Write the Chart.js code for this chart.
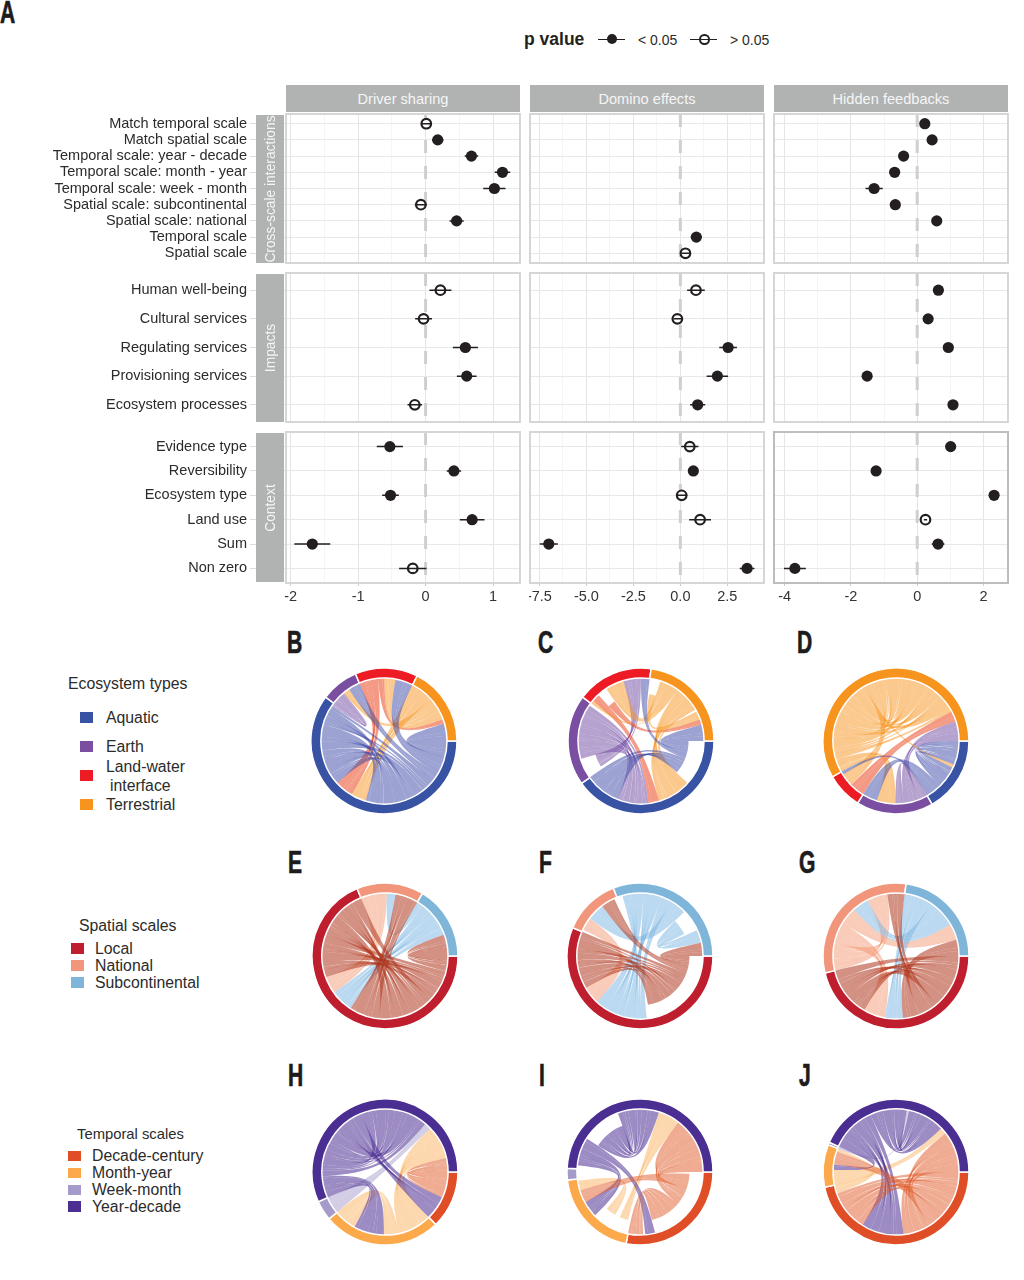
<!DOCTYPE html>
<html>
<head>
<meta charset="utf-8">
<title>Regime shift interactions</title>
<script src="https://cdn.jsdelivr.net/npm/chart.js@4"></script>
<style>
  html, body { margin: 0; padding: 0; background: #fff; }
  #page { position: relative; width: 1024px; height: 1280px; overflow: hidden; font-family: "Liberation Sans", Arial, sans-serif; color: #2b2b2b; }
  #page canvas { position: absolute; }
  .txt { position: absolute; white-space: nowrap; line-height: 1; transform: translateY(-50%); }
  .letter { position: absolute; font-family: "Liberation Sans", sans-serif; font-weight: bold; font-size: 31px; line-height: 1; color: #1d1b1c; -webkit-text-stroke: 0.7px #1d1b1c; transform: translateY(-50%) scaleX(0.68); transform-origin: left center; }
  .head { position: absolute; background: #b1b3b2; color: #f6f6f6; font-size: 14.6px; display: flex; align-items: center; justify-content: center; z-index: 3; }
  .strip { position: absolute; background: #b1b3b2; z-index: 3; }
  .strip span { position: absolute; left: 50%; top: 50%; transform: translate(-50%, -50%) rotate(-90deg); white-space: nowrap; color: #f6f6f6; font-size: 13.8px; }
  .swatch { position: absolute; }
  .keyline { position: absolute; height: 1.5px; background: #231f20; }
  .keydot { position: absolute; border-radius: 50%; box-sizing: border-box; }
</style>
</head>
<body>
<div id="page"></div>
<script>
// ---- panel A: estimates ----
const panelNames = ['Driver sharing', 'Domino effects', 'Hidden feedbacks'];
const groupNames = ['Cross-scale interactions', 'Impacts', 'Context'];

const scaleLabels = ['Match temporal scale', 'Match spatial scale', 'Temporal scale: year - decade', 'Temporal scale: month - year', 'Temporal scale: week - month', 'Spatial scale: subcontinental', 'Spatial scale: national', 'Temporal scale', 'Spatial scale'];
const impactLabels = ['Human well-being', 'Cultural services', 'Regulating services', 'Provisioning services', 'Ecosystem processes'];
const contextLabels = ['Evidence type', 'Reversibility', 'Ecosystem type', 'Land use', 'Sum', 'Non zero'];

const driverTickValues = [-2, -1, 0, 1];
const driverTickLabels = ['-2', '-1', '0', '1'];
const dominoTickValues = [-7.5, -5, -2.5, 0, 2.5];
const dominoTickLabels = ['-7.5', '-5.0', '-2.5', '0.0', '2.5'];
const hiddenTickValues = [-4, -2, 0, 2];
const hiddenTickLabels = ['-4', '-2', '0', '2'];

const driverScale = [0.01, 0.18, 0.68, 1.14, 1.02, -0.07, 0.46, null, null];
const driverScaleErr = [0.07, 0.085, 0.1, 0.115, 0.165, 0.09, 0.105, null, null];
const driverScaleOpen = [1, 0, 0, 0, 0, 1, 0, 0, 0];
const driverImpact = [0.22, -0.03, 0.59, 0.61, -0.16];
const driverImpactErr = [0.163, 0.125, 0.186, 0.146, 0.108];
const driverImpactOpen = [1, 1, 0, 0, 1];
const driverContext = [-0.53, 0.42, -0.52, 0.69, -1.68, -0.19];
const driverContextErr = [0.194, 0.106, 0.123, 0.183, 0.266, 0.203];
const driverContextOpen = [0, 0, 0, 0, 0, 1];

const dominoScale = [null, null, null, null, null, null, null, 0.85, 0.27];
const dominoScaleErr = [null, null, null, null, null, null, null, 0.3, 0.2];
const dominoScaleOpen = [0, 0, 0, 0, 0, 0, 0, 0, 1];
const dominoImpact = [0.83, -0.16, 2.54, 1.97, 0.92];
const dominoImpactErr = [0.47, 0.2, 0.47, 0.57, 0.4];
const dominoImpactOpen = [1, 1, 0, 0, 0];
const dominoContext = [0.5, 0.69, 0.07, 1.05, -7.0, 3.55];
const dominoContextErr = [0.46, 0.1, 0.3, 0.58, 0.48, 0.39];
const dominoContextOpen = [1, 0, 1, 1, 0, 0];

const hiddenScale = [0.23, 0.45, -0.41, -0.68, -1.3, -0.66, 0.59, null, null];
const hiddenScaleErr = [0.05, 0.05, 0.05, 0.05, 0.26, 0.05, 0.05, null, null];
const hiddenScaleOpen = [0, 0, 0, 0, 0, 0, 0, 0, 0];
const hiddenImpact = [0.64, 0.33, 0.94, -1.51, 1.08];
const hiddenImpactErr = [0.05, 0.05, 0.05, 0.05, 0.05];
const hiddenImpactOpen = [0, 0, 0, 0, 0];
const hiddenContext = [1.01, -1.24, 2.32, 0.25, 0.63, -3.69];
const hiddenContextErr = [0.05, 0.05, 0.05, 0.05, 0.19, 0.33];
const hiddenContextOpen = [0, 0, 0, 1, 0, 0];

// ---- panels B-J: sector sizes, and what fills each sector going clockwise ----
const ecosystemTypes = ['Aquatic', 'Earth', 'Land-water interface', 'Terrestrial'];
const spatialScales = ['Local', 'National', 'Subcontinental'];
const temporalScales = ['Decade-century', 'Month-year', 'Week-month', 'Year-decade'];

// a slot is [link, size, strands]; first digit of a link is its source sector, '' is empty
const bRing = [217, 30, 50, 63];
const bSlots = [
  [['03', 15, 3], ['02', 16, 3], ['01', 8, 2], ['00', 68, 11], ['30', 14, 2], ['20', 17, 2], ['00', 76, 5], ['10', 3, 1]],
  [['10', 13, 5], ['31', 6, 1], ['01', 11, 3]],
  [['20', 17, 4], ['23', 6, 1], ['32', 10, 2], ['02', 16, 3]],
  [['30', 20, 5], ['31', 8, 3], ['32', 12, 4], ['23', 4, 1], ['03', 15, 3]]
];
const cRing = [144.5, 72.5, 61, 82];
const cSlots = [
  [['03', 14, 3], ['02', 8, 2], ['00', 19, 5], ['', 1], ['30', 31, 2], ['20', 10, 1], ['10', 29, 3], ['00', 32.5, 2]],
  [['', 3], ['12', 16, 6], ['10', 51, 12], ['', 2.5]],
  [['32b', 3, 1], ['20', 7, 2], ['23', 9, 1], ['32', 17, 2], ['12', 16, 2], ['02', 8, 2]],
  [['', 2], ['33', 8, 3], ['32', 16, 5], ['32b', 2, 1], ['30', 24, 6], ['', 2], ['33', 8, 1], ['23', 5, 1], ['03', 15, 2]]
];
const dRing = [60.4, 61.3, 28.9, 209.4];
const dSlots = [
  [['00', 22, 6], ['30', 3, 1], ['00', 20, 5], ['01', 10, 3], ['02', 5, 1]],
  [['11', 8, 3], ['13', 14, 4], ['11', 8, 3], ['31', 17, 2], ['01', 14, 3]],
  [['23', 14, 1], ['32', 12, 2], ['02', 3, 1]],
  [['31', 12, 4], ['33', 74, 16], ['30', 3, 1], ['32', 12, 2], ['33', 80, 3], ['23', 10, 1], ['13', 18, 2]]
];
const eRing = [247.5, 53.5, 59];
const eSlots = [
  [['02', 14, 3], ['00', 29, 6], ['00b', 52, 9], ['01', 28, 4], ['20', 21, 2], ['10', 16, 2], ['00', 40, 4], ['00b', 47, 4]],
  [['10', 24, 5], ['21', 8, 1], ['01', 21, 2]],
  [['21', 6, 1], ['20', 33, 7], ['02', 20, 3]]
];
const fRing = [202.8, 45.8, 111.4];
const fSlots = [
  [['02', 10, 2], ['01', 10, 2], ['00', 60, 11], ['', 3], ['20', 49, 2], ['10', 16, 1], ['00', 53, 3]],
  [['', 2], ['10', 12, 1], ['21', 16, 1], ['01', 13, 1], ['', 2.8]],
  [['', 5], ['20', 45, 9], ['21', 15, 3], ['22', 18, 4], ['', 2], ['22', 12, 1], ['02', 12, 2]]
];
const gRing = [166.6, 111.4, 82];
const gSlots = [
  [['00', 50, 9], ['01', 18, 3], ['02', 15, 3], ['20', 17, 2], ['10', 20, 2], ['00', 46, 5]],
  [['11', 25, 6], ['10', 20, 3], ['12', 16, 3], ['21', 15, 2], ['11', 19, 3], ['01', 16, 2]],
  [['20', 26, 5], ['21', 26, 5], ['12', 15, 1], ['02', 15, 2]]
];
const hRing = [46, 94, 16, 204];
const hSlots = [
  [['03', 24, 5], ['30', 22, 3]],
  [['13', 31, 6], ['11', 14, 3], ['31', 28, 4], ['11', 21, 3]],
  [['23', 16, 2]],
  [['31', 20, 4], ['33', 50, 10], ['30', 22, 4], ['33', 62, 6], ['23', 6, 1], ['13', 31, 2], ['03', 13, 2]]
];
const iRing = [101, 72.7, 9.3, 177];
const iSlots = [
  [['', 2], ['01', 18, 3], ['03', 20, 3], ['00', 36, 9], ['30', 9, 2], ['', 2], ['00', 14, 1]],
  [['', 3], ['13', 10, 2], ['10', 6, 1], ['11', 12, 4], ['', 4], ['31', 15, 1], ['01', 12, 1], ['11', 9, 2], ['', 1.7]],
  [['23', 9, 1]],
  [['', 3], ['31', 16, 4], ['30', 10, 2], ['33', 37, 9], ['33', 38, 2], ['13', 20, 2], ['03', 52, 2]]
];
const jRing = [168, 34, 2, 156];
const jSlots = [
  [['00', 44, 8], ['01', 14, 3], ['03', 25, 5], ['30', 39, 3], ['00', 38, 6], ['10', 8, 1]],
  [['13', 14, 3], ['31', 5, 1], ['01', 12, 2], ['10', 3, 1]],
  [['23', 2, 1]],
  [['31', 12, 2], ['30', 30, 6], ['33', 34, 7], ['23', 2, 1], ['33', 34, 5], ['13', 6, 1], ['03', 38, 6]]
];

// ---- styles ----
const ecosystemColors = ['#3953a4', '#7a4ea0', '#ed1c24', '#f7941d'];
const ecosystemRibbons = ['rgba(58,70,165,.5)', 'rgba(110,70,160,.5)', 'rgba(235,70,30,.55)', 'rgba(247,148,29,.5)'];
const spatialColors = ['#be1e2d', '#f1967a', '#7fb5d9'];
const spatialRibbons = ['rgba(175,55,30,.55)', 'rgba(241,140,100,.45)', 'rgba(120,180,225,.5)'];
const temporalColors = ['#e04e27', '#fba94b', '#a59bcb', '#4b2e91'];
const temporalRibbons = ['rgba(224,90,40,.5)', 'rgba(251,169,75,.45)', 'rgba(165,155,203,.5)', 'rgba(75,46,145,.55)'];

const INK = '#231f20';
const page = document.getElementById('page');
Chart.defaults.font.family = '"Liberation Sans", Arial, sans-serif';
Chart.defaults.animation = false;
Chart.defaults.events = [];

function addText(text, x, y, size, extra) {
  let el = document.createElement('div');
  el.className = 'txt';
  el.textContent = text;
  el.style.cssText = 'left:' + x + 'px;top:' + y + 'px;font-size:' + size + 'px;' + (extra || '');
  page.appendChild(el);
}

function addBox(cls, x, y, w, h, css) {
  let el = document.createElement('div');
  el.className = cls;
  el.style.cssText = 'left:' + x + 'px;top:' + y + 'px;width:' + w + 'px;height:' + h + 'px;' + (css || '');
  page.appendChild(el);
  return el;
}

function addLetter(text, x, y) {
  let el = document.createElement('div');
  el.className = 'letter';
  el.textContent = text;
  el.style.left = x + 'px';
  el.style.top = y + 'px';
  page.appendChild(el);
}

function addCanvas(x, y, w, h) {
  let c = document.createElement('canvas');
  c.width = w;
  c.height = h;
  c.style.cssText = 'left:' + x + 'px;top:' + y + 'px;width:' + w + 'px;height:' + h + 'px;';
  page.appendChild(c);
  return c.getContext('2d');
}

// ---- forest panels ----
const colLefts = [286, 530, 774];
const rowTops = [114, 273, 432];
const rowHeights = [149, 149, 150];
const panelW = 234;
const xMins = [-2.07, -8, -4.32];
const xMaxs = [1.4, 4.45, 2.74];
const xSteps = [0.5, 1.25, 1];

const panelBorder = {
  id: 'panelBorder',
  afterDraw(chart, args, opts) {
    let a = chart.chartArea, ctx = chart.ctx;
    ctx.save();
    ctx.strokeStyle = opts.color;
    ctx.lineWidth = 2;
    ctx.strokeRect(a.left, a.top, a.right - a.left, a.bottom - a.top);
    ctx.restore();
  }
};

// keeps the plot area exactly where the facet grid puts it
function noScalePadding(s) {
  s.paddingLeft = s.paddingRight = s.paddingTop = s.paddingBottom = 0;
}

function addForest(col, row, labels, values, errs, open, tickValues, tickLabels) {
  let first = col === 0, bottom = row === 2;
  let left = first ? 0 : colLefts[col] - 1;
  let w = first ? colLefts[0] + panelW + 1 : panelW + 2;
  let h = rowHeights[row] + 2 + (bottom ? 28 : 0);
  let ctx = addCanvas(left, rowTops[row] - 1, w, h);
  let yMin = -0.6, yMax = labels.length - 0.4;

  let solid = [], hollow = [], bars = [];
  values.forEach(function(v, i) {
    if (v === null) return;
    (open[i] ? hollow : solid).push({x: v, y: i});
    bars.push({x: v - errs[i], y: i}, {x: v + errs[i], y: i}, {x: null, y: null});
  });

  new Chart(ctx, {
    type: 'scatter',
    data: {
      datasets: [
        {data: [{x: 0, y: yMin}, {x: 0, y: yMax}], showLine: true, pointRadius: 0, borderColor: '#cfcfcf', borderWidth: 3, borderDash: [13, 13], order: 4},
        {data: hollow, pointRadius: 4.8, pointBackgroundColor: '#fff', pointBorderColor: INK, pointBorderWidth: 2.2, order: 3},
        {data: bars, showLine: true, spanGaps: false, pointRadius: 0, borderColor: INK, borderWidth: 1.5, order: 2},
        {data: solid, pointRadius: 5.6, pointBackgroundColor: INK, pointBorderColor: INK, pointBorderWidth: 0, order: 1}
      ]
    },
    options: {
      responsive: false,
      layout: {autoPadding: false, padding: {left: first ? 0 : 1, right: 1, top: 1, bottom: bottom ? 0 : 1}},
      plugins: {
        legend: {display: false},
        tooltip: {enabled: false},
        panelBorder: {color: (col === 2 && row === 2) ? '#bdbdbd' : '#d6d6d6'}
      },
      scales: {
        x: {
          type: 'linear',
          min: xMins[col],
          max: xMaxs[col],
          border: {display: false},
          afterFit(s) { s.height = bottom ? 28 : 0; noScalePadding(s); },
          grid: {
            drawTicks: bottom,
            tickLength: 3,
            color: c => tickValues.includes(c.tick.value) ? '#e4e4e4' : '#f0f0f0',
            lineWidth: c => tickValues.includes(c.tick.value) ? 1 : 0.7,
            tickColor: c => tickValues.includes(c.tick.value) ? '#cccccc' : 'rgba(0,0,0,0)'
          },
          ticks: {
            display: bottom,
            stepSize: xSteps[col],
            includeBounds: false,
            autoSkip: false,
            maxRotation: 0,
            padding: 2,
            color: '#333',
            font: {size: 14.5},
            callback: v => {
              let i = tickValues.indexOf(v);
              return i < 0 ? '' : tickLabels[i];
            }
          }
        },
        y: {
          type: 'linear',
          reverse: true,
          min: yMin,
          max: yMax,
          border: {display: false},
          afterFit(s) { s.width = first ? colLefts[0] : 0; noScalePadding(s); },
          grid: {drawTicks: first, tickLength: 36, color: '#e8e8e8', lineWidth: 1, tickColor: '#dcdcdc'},
          ticks: {
            display: first,
            stepSize: 1,
            includeBounds: false,
            autoSkip: false,
            padding: 3,
            color: '#2b2b2b',
            font: {size: 14.5},
            callback: v => labels[v]
          }
        }
      }
    },
    plugins: [panelBorder]
  });
}

addForest(0, 0, scaleLabels, driverScale, driverScaleErr, driverScaleOpen, driverTickValues, driverTickLabels);
addForest(0, 1, impactLabels, driverImpact, driverImpactErr, driverImpactOpen, driverTickValues, driverTickLabels);
addForest(0, 2, contextLabels, driverContext, driverContextErr, driverContextOpen, driverTickValues, driverTickLabels);
addForest(1, 0, scaleLabels, dominoScale, dominoScaleErr, dominoScaleOpen, dominoTickValues, dominoTickLabels);
addForest(1, 1, impactLabels, dominoImpact, dominoImpactErr, dominoImpactOpen, dominoTickValues, dominoTickLabels);
addForest(1, 2, contextLabels, dominoContext, dominoContextErr, dominoContextOpen, dominoTickValues, dominoTickLabels);
addForest(2, 0, scaleLabels, hiddenScale, hiddenScaleErr, hiddenScaleOpen, hiddenTickValues, hiddenTickLabels);
addForest(2, 1, impactLabels, hiddenImpact, hiddenImpactErr, hiddenImpactOpen, hiddenTickValues, hiddenTickLabels);
addForest(2, 2, contextLabels, hiddenContext, hiddenContextErr, hiddenContextOpen, hiddenTickValues, hiddenTickLabels);

panelNames.forEach(function(name, i) {
  let el = addBox('head', colLefts[i], 85, panelW, 27);
  el.textContent = name;
});
groupNames.forEach(function(name, i) {
  let el = addBox('strip', 256, rowTops[i] + 1, 28, rowHeights[i] - 1);
  let s = document.createElement('span');
  s.textContent = name;
  el.appendChild(s);
});

// p value key
addText('p value', 524, 40, 17.5, 'font-weight:bold;color:#231f20;');
addBox('keyline', 598, 38.5, 27, 1.5);
addBox('keydot', 607, 34, 10, 10, 'background:' + INK + ';');
addText('< 0.05', 638, 40, 14);
addBox('keyline', 690, 38.5, 27, 1.5);
addBox('keydot', 699, 34, 10.5, 10.5, 'border:2.2px solid ' + INK + ';background:transparent;');
addText('> 0.05', 730, 40, 14);

// ---- chord panels ----
const RIBBON_R = 63.4;
const PINCH = 0.16;
const strandWeights = [5, 2, 3, 7, 2, 4, 6, 3, 8, 2, 4];

function gcd(a, b) { return b ? gcd(b, a % b) : a; }

function strandEdges(a0, a1, n) {
  let total = 0, edges = [], pos = a0;
  for (let i = 0; i < n; i++) total += strandWeights[i % strandWeights.length];
  for (let i = 0; i < n; i++) {
    let w = (a1 - a0) * strandWeights[i % strandWeights.length] / total;
    edges.push([pos, pos + w]);
    pos += w;
  }
  return edges;
}

const ribbonPlugin = {
  id: 'ribbons',
  beforeDatasetsDraw(chart, args, opts) {
    let arcs = chart.getDatasetMeta(0).data, ctx = chart.ctx;
    let cx = arcs[0].x, cy = arcs[0].y;
    let links = {};
    // walk each sector's slots inside the angles the doughnut gave it
    opts.slots.forEach(function(list, s) {
      let arc = arcs[s], sum = 0, pos = arc.startAngle;
      list.forEach(slot => sum += slot[1]);
      list.forEach(function(slot) {
        let span = (arc.endAngle - arc.startAngle) * slot[1] / sum;
        if (slot[0]) {
          (links[slot[0]] = links[slot[0]] || []).push({sector: s, a0: pos, a1: pos + span, n: slot[2]});
        }
        pos += span;
      });
    });
    // curve between two rim points, pulled through the middle of the circle
    function curve(ra, ta, rb, tb) {
      let ax = ra * Math.cos(ta), ay = ra * Math.sin(ta), bx = rb * Math.cos(tb), by = rb * Math.sin(tb);
      ctx.bezierCurveTo(cx + PINCH * ax, cy + PINCH * ay, cx + PINCH * bx, cy + PINCH * by, cx + bx, cy + by);
    }
    Object.keys(links).forEach(function(id) {
      let ends = links[id], from = +id[0];
      if (ends.length < 2) return;
      let src = ends[0], dst = ends[1];
      // wide slots never stay one flat band: about one strand per 6 degrees
      let widest = Math.max(src.a1 - src.a0, dst.a1 - dst.a0) * 180 / Math.PI;
      let n = Math.max(src.n, dst.n, Math.ceil(widest / 6));
      let a = strandEdges(src.a0, src.a1, n), b = strandEdges(dst.a0, dst.a1, n);
      let step = n >= 4 ? 3 : 1;
      while (gcd(step, n) !== 1) step++;
      let ra = src.sector === from ? RIBBON_R * opts.height : RIBBON_R;
      ctx.fillStyle = opts.colors[from];
      for (let i = 0; i < n; i++) {
        let e = a[i], f = b[n - 1 - (i * step) % n];
        ctx.beginPath();
        ctx.arc(cx, cy, ra, e[0], e[1]);
        curve(ra, e[1], RIBBON_R, f[0]);
        ctx.arc(cx, cy, RIBBON_R, f[0], f[1]);
        curve(RIBBON_R, f[1], ra, e[0]);
        ctx.closePath();
        ctx.fill();
      }
    });
  }
};

function addChord(cx, cy, names, ring, slots, colors, ribbons, height) {
  let ctx = addCanvas(cx - 76, cy - 76, 152, 152);
  new Chart(ctx, {
    type: 'doughnut',
    data: {
      labels: names,
      datasets: [{data: ring, backgroundColor: colors, borderColor: '#fff', borderWidth: 1.5}]
    },
    options: {
      responsive: false,
      rotation: 90,
      radius: 73,
      cutout: 65,
      plugins: {
        legend: {display: false},
        tooltip: {enabled: false},
        ribbons: {slots: slots, colors: ribbons, height: height}
      }
    },
    plugins: [ribbonPlugin]
  });
}

addChord(384, 741, ecosystemTypes, bRing, bSlots, ecosystemColors, ecosystemRibbons, 1);
addChord(640.5, 741, ecosystemTypes, cRing, cSlots, ecosystemColors, ecosystemRibbons, 0.75);
addChord(896, 741, ecosystemTypes, dRing, dSlots, ecosystemColors, ecosystemRibbons, 1);
addChord(384.5, 956, spatialScales, eRing, eSlots, spatialColors, spatialRibbons, 1);
addChord(640, 956, spatialScales, fRing, fSlots, spatialColors, spatialRibbons, 0.78);
addChord(896, 956, spatialScales, gRing, gSlots, spatialColors, spatialRibbons, 1);
addChord(384.5, 1172, temporalScales, hRing, hSlots, temporalColors, temporalRibbons, 1);
addChord(640, 1172, temporalScales, iRing, iSlots, temporalColors, temporalRibbons, 0.78);
addChord(896, 1172, temporalScales, jRing, jSlots, temporalColors, temporalRibbons, 1);

// ---- legends ----
addText('Ecosystem types', 68, 684, 15.8);
[712, 741, 770, 799].forEach((y, i) => addBox('swatch', 80, y, 13, 11, 'background:' + ecosystemColors[i] + ';'));
addText(ecosystemTypes[0], 106, 718, 15.8);
addText(ecosystemTypes[1], 106, 747, 15.8);
addText('Land-water', 106, 767, 15.8);
addText('interface', 110, 785.5, 15.8);
addText(ecosystemTypes[3], 106, 805, 15.8);

addText('Spatial scales', 79, 926, 15.8);
[943, 960, 977].forEach((y, i) => addBox('swatch', 71, y, 13, 11, 'background:' + spatialColors[i] + ';'));
spatialScales.forEach((t, i) => addText(t, 95, 949 + i * 17, 15.8));

addText('Temporal scales', 77, 1134, 14.8);
[1150.5, 1167.5, 1184.5, 1201].forEach((y, i) => addBox('swatch', 68, y, 12.5, 10.5, 'background:' + temporalColors[i] + ';'));
temporalScales.forEach((t, i) => addText(t, 92, 1156 + i * 17, 15.8));

// panel letters
addLetter('A', 0, 12);
addLetter('B', 287, 642);
addLetter('C', 538, 642);
addLetter('D', 797, 642);
addLetter('E', 288, 862);
addLetter('F', 539, 862);
addLetter('G', 799, 862);
addLetter('H', 288, 1075);
addLetter('I', 539, 1075);
addLetter('J', 799, 1075);
</script>
</body>
</html>
